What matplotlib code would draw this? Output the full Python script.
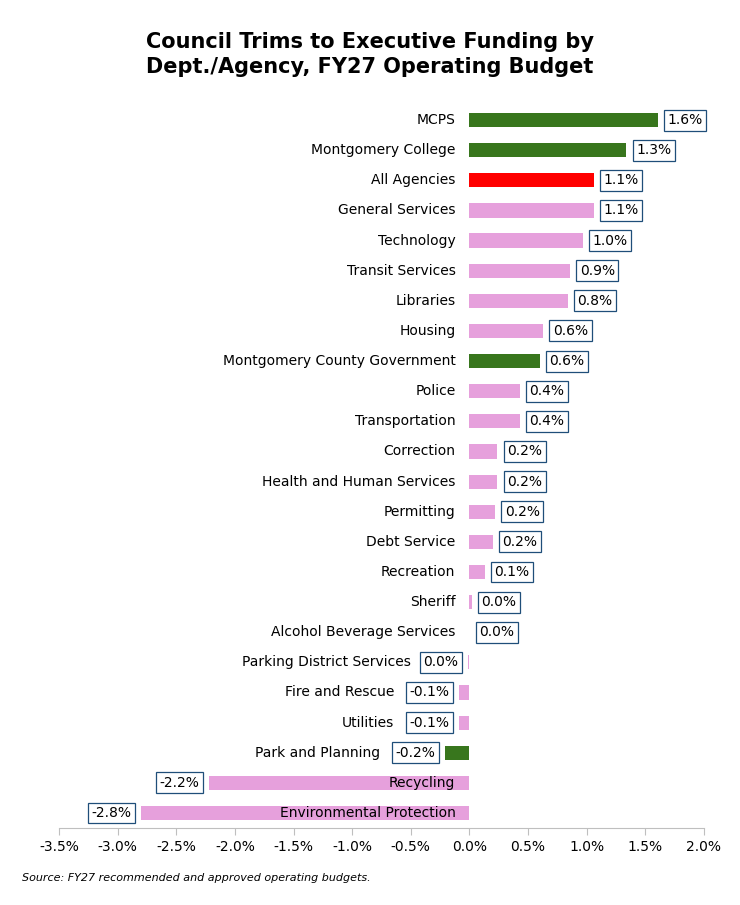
import matplotlib.pyplot as plt
from matplotlib.ticker import FuncFormatter

# Council trims as % of executive funding
depts = ["MCPS", "Montgomery College", "All Agencies", "General Services", "Technology",
         "Transit Services", "Libraries", "Housing", "Montgomery County Government",
         "Police", "Transportation", "Correction", "Health and Human Services",
         "Permitting", "Debt Service", "Recreation", "Sheriff", "Alcohol Beverage Services",
         "Parking District Services", "Fire and Rescue", "Utilities", "Park and Planning",
         "Recycling", "Environmental Protection"]
trims = [1.61, 1.34, 1.06, 1.06, 0.97, 0.86, 0.84, 0.63, 0.60, 0.43, 0.43, 0.24, 0.24,
         0.22, 0.20, 0.13, 0.02, 0.0, -0.01, -0.085, -0.085, -0.205, -2.22, -2.80]
green = ["MCPS", "Montgomery College", "Montgomery County Government", "Park and Planning"]

colors = []
for d in depts:
    if d == "All Agencies":
        colors.append("#FF0000")
    elif d in green:
        colors.append("#38761D")
    else:
        colors.append("#E6A0DC")

fig = plt.figure(figsize=(7.4, 9.05), dpi=100)
ax = fig.add_axes([0.08, 0.085, 0.871, 0.799])

y = list(range(len(depts)))
ax.barh(y, trims, height=0.47, color=colors)
ax.set_ylim(len(depts) - 0.5, -0.5)
ax.set_xlim(-3.5, 2.0)
ax.set_yticks([])
for s in ['left', 'top', 'right']:
    ax.spines[s].set_visible(False)
ax.spines['bottom'].set_color('#BFBFBF')
ax.tick_params(axis='x', colors='#BFBFBF', labelcolor='black', labelsize=10, length=5)
ax.set_xticks([-3.5 + 0.5 * i for i in range(12)])
ax.xaxis.set_major_formatter(FuncFormatter(lambda v, p: f"{v:.1f}%"))

box = dict(boxstyle='square,pad=0.25', fc='white', ec='#1F4E79', lw=0.9)
for yi, v, d in zip(y, trims, depts):
    lbl = f"{abs(v):.1f}%" if round(v, 1) == 0 else f"{v:.1f}%"
    if v < -0.005:
        ax.annotate(lbl, (v, yi), xytext=(-7, 0), textcoords='offset points',
                    ha='right', va='center', fontsize=10, bbox=box)
    else:
        ax.annotate(lbl, (v, yi), xytext=(7, 0), textcoords='offset points',
                    ha='left', va='center', fontsize=10, bbox=box)
    # category label: next to axis, pushed left of the value box for small negatives
    if -0.5 < v < -0.005:
        off = -47 if lbl.startswith('-') else -41
        ax.annotate(d, (v, yi), xytext=(off, 0), textcoords='offset points',
                    ha='right', va='center', fontsize=10)
    else:
        ax.annotate(d, (0, yi), xytext=(-10, 0), textcoords='offset points',
                    ha='right', va='center', fontsize=10)

fig.text(0.5, 0.94, "Council Trims to Executive Funding by\nDept./Agency, FY27 Operating Budget",
         ha='center', va='center', fontsize=15, fontweight='bold', linespacing=1.3)
fig.text(0.03, 0.027, "Source: FY27 recommended and approved operating budgets.",
         fontsize=8, style='italic')

fig.savefig("out.png", dpi=100)
